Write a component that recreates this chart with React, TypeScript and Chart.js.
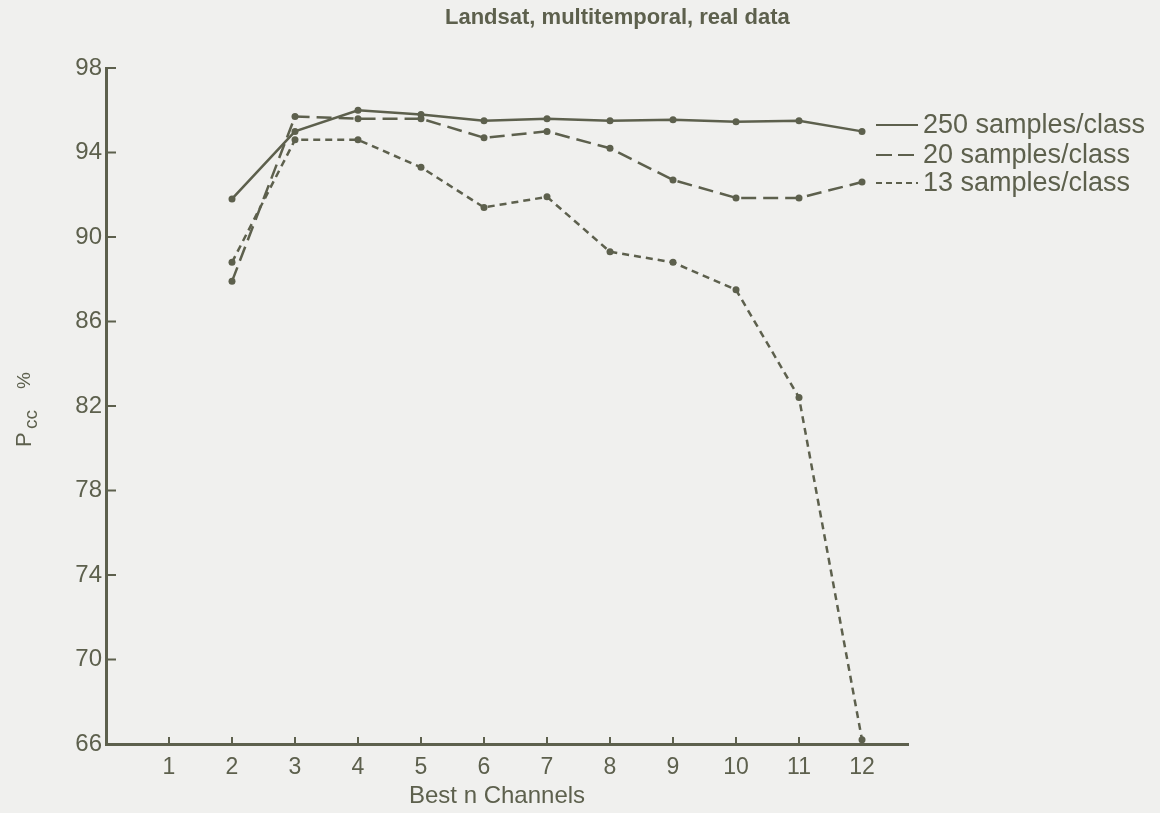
import React, { useEffect, useRef } from "react";
import { Chart, registerables } from "chart.js";

Chart.register(...registerables);

const channels = [2, 3, 4, 5, 6, 7, 8, 9, 10, 11, 12];
const pcc250 = [91.8, 95.0, 96.0, 95.8, 95.5, 95.6, 95.5, 95.55, 95.45, 95.5, 95.0];
const pcc20 = [87.9, 95.7, 95.6, 95.6, 94.7, 95.0, 94.2, 92.7, 91.85, 91.85, 92.6];
const pcc13 = [88.8, 94.6, 94.6, 93.3, 91.4, 91.9, 89.3, 88.8, 87.5, 82.4, 66.2];
const xTicks = [1, 2, 3, 4, 5, 6, 7, 8, 9, 10, 11, 12];
const yTicks = [66, 70, 74, 78, 82, 86, 90, 94, 98];
const seriesLabels = ["250 samples/class", "20 samples/class", "13 samples/class"];
const titleText = "Landsat, multitemporal, real data";
const xTitle = "Best n Channels";

const INK = "#5d604d";
const BG = "#f0f0ee";
const FONT = "'Liberation Sans', Arial, sans-serif";
const DASHES: number[][] = [[], [15, 7], [7, 5]];

const decorPlugin = {
  id: "decor",
  beforeDraw(chart: any) {
    const ctx = chart.ctx;
    ctx.save();
    ctx.fillStyle = BG;
    ctx.fillRect(0, 0, chart.width, chart.height);
    ctx.restore();
  },
  afterDraw(chart: any) {
    const ctx = chart.ctx;
    const xs = chart.scales.x;
    const ys = chart.scales.y;
    const ca = chart.chartArea;
    ctx.save();
    ctx.strokeStyle = INK;
    ctx.fillStyle = INK;
    ctx.lineWidth = 2;
    xTicks.forEach((v) => {
      const px = xs.getPixelForValue(v);
      ctx.beginPath();
      ctx.moveTo(px, ca.bottom);
      ctx.lineTo(px, ca.bottom - 7);
      ctx.stroke();
    });
    yTicks.forEach((v) => {
      const py = ys.getPixelForValue(v);
      ctx.beginPath();
      ctx.moveTo(ca.left, py);
      ctx.lineTo(ca.left + 10, py);
      ctx.stroke();
    });
    ctx.font = `bold 22px ${FONT}`;
    ctx.textAlign = "left";
    ctx.textBaseline = "middle";
    ctx.fillText(titleText, 445, 18);
    ctx.textAlign = "center";
    ctx.font = `24px ${FONT}`;
    ctx.fillText(xTitle, 497, 796);
    ctx.translate(31, 447);
    ctx.rotate(-Math.PI / 2);
    ctx.textAlign = "left";
    ctx.textBaseline = "alphabetic";
    ctx.font = `22px ${FONT}`;
    ctx.fillText("P", 0, 0);
    ctx.font = `19px ${FONT}`;
    ctx.fillText("cc", 18, 6);
    ctx.font = `19px ${FONT}`;
    ctx.fillText("%", 58, -1);
    ctx.setTransform(1, 0, 0, 1, 0, 0);
    const lx0 = 876;
    const lx1 = 918;
    const rows = [125, 155, 183];
    ctx.lineWidth = 2;
    ctx.font = `27px ${FONT}`;
    ctx.textAlign = "left";
    ctx.textBaseline = "middle";
    rows.forEach((ry, i) => {
      ctx.setLineDash(i === 2 ? [6, 4] : i === 1 ? [16, 6] : []);
      ctx.beginPath();
      ctx.moveTo(lx0, ry);
      ctx.lineTo(lx1, ry);
      ctx.stroke();
      ctx.setLineDash([]);
      ctx.fillText(seriesLabels[i], 923, ry + 1);
    });
    ctx.restore();
  },
};

export default function App() {
  const ref = useRef<HTMLCanvasElement | null>(null);
  useEffect(() => {
    document.body.style.margin = "0";
    if (!ref.current) return;
    const mk = (vals: number[], i: number) => ({
      label: seriesLabels[i],
      data: channels.map((c, k) => ({ x: c, y: vals[k] })),
      borderColor: INK,
      backgroundColor: INK,
      borderWidth: 2.5,
      borderDash: DASHES[i],
      pointRadius: 3.5,
      pointBorderWidth: 0,
      pointBackgroundColor: INK,
      tension: 0,
      fill: false,
    });
    const chart = new Chart(ref.current, {
      type: "line",
      data: { datasets: [mk(pcc250, 0), mk(pcc20, 1), mk(pcc13, 2)] },
      options: {
        animation: false,
        responsive: false,
        maintainAspectRatio: false,
        layout: { padding: { top: 68, right: 252, left: 0, bottom: 0 } },
        plugins: { legend: { display: false }, title: { display: false }, tooltip: { enabled: false } },
        scales: {
          x: {
            type: "linear",
            min: 0,
            max: 12.73,
            afterBuildTicks: (s: any) => {
              s.ticks = xTicks.map((v) => ({ value: v }));
            },
            afterFit: (s: any) => {
              s.height = 69;
            },
            grid: { display: false, drawTicks: false },
            border: { display: true, color: INK, width: 3 },
            ticks: { color: INK, font: { family: FONT, size: 23 }, padding: 10, maxRotation: 0, autoSkip: false },
          },
          y: {
            type: "linear",
            min: 66,
            max: 98,
            afterBuildTicks: (s: any) => {
              s.ticks = yTicks.map((v) => ({ value: v }));
            },
            afterFit: (s: any) => {
              s.width = 106;
            },
            grid: { display: false, drawTicks: false },
            border: { display: true, color: INK, width: 3 },
            ticks: { color: INK, font: { family: FONT, size: 24 }, padding: 4 },
          },
        },
      },
      plugins: [decorPlugin],
    } as any);
    return () => chart.destroy();
  }, []);
  return (
    <div style={{ width: 1160, height: 813, background: BG }}>
      <canvas ref={ref} width={1160} height={813} style={{ display: "block" }} />
    </div>
  );
}
